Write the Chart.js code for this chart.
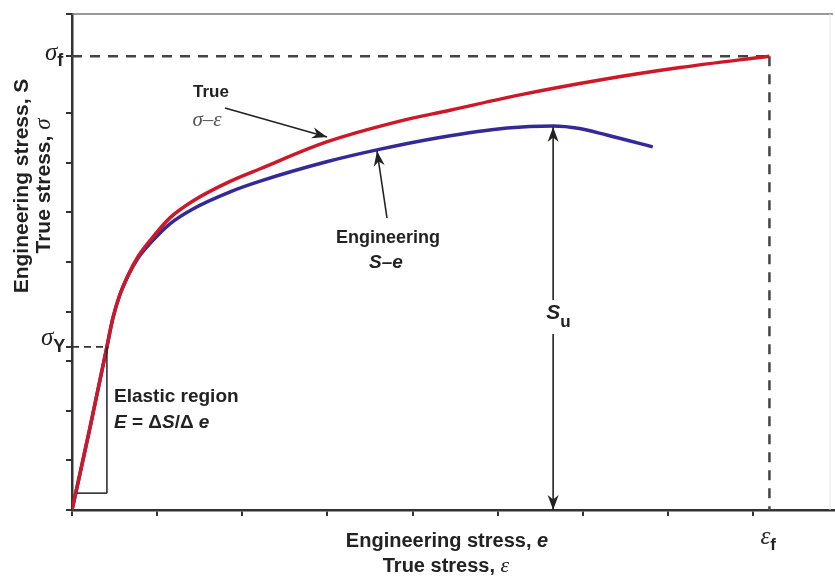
<!DOCTYPE html>
<html>
<head>
<meta charset="utf-8">
<script src="https://cdn.jsdelivr.net/npm/chart.js@4.4.0/dist/chart.umd.min.js"></script>
<style>
  html, body { margin: 0; padding: 0; background: #fff; }
</style>
</head>
<body>
<canvas id="stressChart" width="835" height="577"></canvas>
<script>
// true stress-strain curve (sigma - epsilon)
const trueStrain = [0, 0.21, 0.41, 0.48, 0.56, 0.66, 0.78, 0.92, 1.15, 1.42, 1.85, 2.21, 2.99, 3.85, 4.44, 5.26, 6.20, 7.14, 8.19];
const trueStress = [0, 1.65, 3.29, 3.87, 4.33, 4.74, 5.12, 5.44, 5.89, 6.23, 6.62, 6.88, 7.42, 7.84, 8.06, 8.37, 8.67, 8.92, 9.15];

// engineering stress-strain curve (S - e)
const engStrain = [0, 0.21, 0.41, 0.48, 0.56, 0.66, 0.78, 0.92, 1.15, 1.42, 1.85, 2.21, 2.99, 3.58, 4.32, 5.11, 5.65, 5.96, 6.28, 6.82];
const engStress = [0, 1.65, 3.29, 3.87, 4.33, 4.73, 5.09, 5.38, 5.77, 6.07, 6.41, 6.63, 7.02, 7.26, 7.51, 7.70, 7.74, 7.69, 7.56, 7.32];

// axis ticks (no numbers are printed on this chart)
const strainTicks = [0, 1, 2, 3, 4, 5, 6, 7, 8];
const stressTicks = [0, 1, 2, 3, 4, 5, 6, 7, 8, 10];

// marked values
const yieldStress = 3.29;
const yieldStrain = 0.41;
const fractureStress = 9.15;
const fractureStrain = 8.19;
const ultimateStrain = 5.65;
const ultimateStress = 7.74;

const SANS = '"Liberation Sans", Arial, sans-serif';
const SERIF = '"Liberation Serif", "Times New Roman", serif';
const INK = '#222';

const toPoints = (xs, ys) => xs.map((x, i) => ({ x: x, y: ys[i] }));

const line = (ctx, x1, y1, x2, y2, color, width) => {
  ctx.strokeStyle = color;
  ctx.lineWidth = width;
  ctx.beginPath();
  ctx.moveTo(x1, y1);
  ctx.lineTo(x2, y2);
  ctx.stroke();
};

// arrow head at (x2, y2)
const arrow = (ctx, x1, y1, x2, y2, both) => {
  line(ctx, x1, y1, x2, y2, INK, 1.6);
  const head = (tx, ty, fx, fy) => {
    const a = Math.atan2(ty - fy, tx - fx);
    const len = 15, half = 5.5;
    ctx.fillStyle = INK;
    ctx.beginPath();
    ctx.moveTo(tx, ty);
    ctx.lineTo(tx - len * Math.cos(a) + half * Math.sin(a), ty - len * Math.sin(a) - half * Math.cos(a));
    ctx.lineTo(tx - len * 0.7 * Math.cos(a), ty - len * 0.7 * Math.sin(a));
    ctx.lineTo(tx - len * Math.cos(a) - half * Math.sin(a), ty - len * Math.sin(a) + half * Math.cos(a));
    ctx.closePath();
    ctx.fill();
  };
  head(x2, y2, x1, y1);
  if (both) head(x1, y1, x2, y2);
};

// text made of runs with different fonts
const runs = (ctx, parts, x, y, align) => {
  let total = 0;
  parts.forEach(p => { ctx.font = p.font; p.w = ctx.measureText(p.text).width; total += p.w; });
  let cx = align === 'center' ? x - total / 2 : x;
  ctx.textAlign = 'left';
  ctx.textBaseline = 'middle';
  parts.forEach(p => {
    ctx.font = p.font;
    ctx.fillStyle = p.color || INK;
    ctx.fillText(p.text, cx, y + (p.dy || 0));
    cx += p.w;
  });
};

const guides = {
  id: 'guides',
  beforeDatasetsDraw(chart) {
    const { ctx, chartArea: a, scales: { x, y } } = chart;
    ctx.save();
    // frame: top line and faint right edge
    line(ctx, a.left, a.top, a.right - 2, a.top, '#777', 1.5);
    line(ctx, 830, a.top, 830, a.bottom, '#e4e4e4', 1);
    // fracture stress and strain
    ctx.setLineDash([10, 8]);
    line(ctx, a.left, y.getPixelForValue(fractureStress), x.getPixelForValue(fractureStrain), y.getPixelForValue(fractureStress), '#444', 2.5);
    line(ctx, x.getPixelForValue(fractureStrain), y.getPixelForValue(fractureStress), x.getPixelForValue(fractureStrain), a.bottom, '#444', 2.5);
    // yield stress
    ctx.setLineDash([7, 5]);
    line(ctx, a.left, y.getPixelForValue(yieldStress), x.getPixelForValue(yieldStrain), y.getPixelForValue(yieldStress), '#333', 1.8);
    ctx.setLineDash([]);
    ctx.restore();
  },
  afterDatasetsDraw(chart) {
    const { ctx, chartArea: a, scales: { x, y } } = chart;
    ctx.save();

    // elastic region triangle
    const ex = x.getPixelForValue(yieldStrain);
    const ey = y.getPixelForValue(0.34);
    line(ctx, ex, y.getPixelForValue(yieldStress), ex, ey, INK, 1.5);
    line(ctx, x.getPixelForValue(0.06), ey, ex, ey, INK, 1.5);

    // annotation arrows
    arrow(ctx, 225, 108, 327, 137);
    arrow(ctx, 387, 218, 377, 151);
    const ux = x.getPixelForValue(ultimateStrain);
    arrow(ctx, ux, a.bottom, ux, y.getPixelForValue(ultimateStress) + 1, true);

    // S_u label on white
    ctx.fillStyle = '#fff';
    ctx.fillRect(ux - 10, 300, 30, 34);
    runs(ctx, [
      { text: 'S', font: `italic bold 21px ${SANS}` },
      { text: 'u', font: `bold 17px ${SANS}`, dy: 9 }
    ], ux - 7, 313, 'left');

    // curve labels
    runs(ctx, [{ text: 'True', font: `bold 17px ${SANS}` }], 211, 92, 'center');
    runs(ctx, [{ text: 'σ–ε', font: `italic 21px ${SERIF}`, color: '#555' }], 207, 120, 'center');
    runs(ctx, [{ text: 'Engineering', font: `bold 18px ${SANS}` }], 388, 238, 'center');
    runs(ctx, [{ text: 'S–e', font: `italic bold 19px ${SANS}` }], 386, 263, 'center');

    // elastic region text
    runs(ctx, [{ text: 'Elastic region', font: `bold 19px ${SANS}` }], 114, 397, 'left');
    runs(ctx, [
      { text: 'E', font: `italic bold 19px ${SANS}` },
      { text: ' = Δ', font: `bold 19px ${SANS}` },
      { text: 'S', font: `italic bold 19px ${SANS}` },
      { text: '/Δ', font: `bold 19px ${SANS}` },
      { text: ' e', font: `italic bold 19px ${SANS}` }
    ], 114, 423, 'left');

    // marked axis values
    runs(ctx, [
      { text: 'σ', font: `italic 25px ${SERIF}` },
      { text: 'f', font: `bold 18px ${SANS}`, dy: 8 }
    ], 45, y.getPixelForValue(fractureStress) - 3, 'left');
    runs(ctx, [
      { text: 'σ', font: `italic 25px ${SERIF}` },
      { text: 'Y', font: `bold 18px ${SANS}`, dy: 8 }
    ], 41, y.getPixelForValue(yieldStress) - 8, 'left');
    runs(ctx, [
      { text: 'ε', font: `italic 25px ${SERIF}` },
      { text: 'f', font: `bold 17px ${SANS}`, dy: 8 }
    ], x.getPixelForValue(fractureStrain) - 9, 537, 'left');

    // axis titles
    runs(ctx, [
      { text: 'Engineering stress, ', font: `bold 20px ${SANS}` },
      { text: 'e', font: `italic bold 20px ${SANS}` }
    ], 447, 541, 'center');
    runs(ctx, [
      { text: 'True stress, ', font: `bold 20px ${SANS}` },
      { text: 'ε', font: `italic 22px ${SERIF}` }
    ], 446, 566, 'center');

    ctx.translate(22, 186);
    ctx.rotate(-Math.PI / 2);
    runs(ctx, [{ text: 'Engineering stress, S', font: `bold 21px ${SANS}` }], 0, 0, 'center');
    runs(ctx, [
      { text: 'True stress, ', font: `bold 21px ${SANS}` },
      { text: 'σ', font: `italic 23px ${SERIF}` }
    ], 0, 22, 'center');

    ctx.restore();
  }
};

new Chart('stressChart', {
  type: 'scatter',
  data: {
    datasets: [
      {
        label: 'True σ–ε',
        data: toPoints(trueStrain, trueStress),
        showLine: true,
        borderColor: 'rgb(204, 24, 40)',
        borderWidth: 3.5,
        pointRadius: 0,
        cubicInterpolationMode: 'monotone',
        order: 0,
      },
      {
        label: 'Engineering S–e',
        data: toPoints(engStrain, engStress),
        showLine: true,
        borderColor: 'rgb(52, 42, 150)',
        borderWidth: 3.5,
        pointRadius: 0,
        cubicInterpolationMode: 'monotone',
        order: 1,
      },
    ],
  },
  options: {
    responsive: false,
    animation: false,
    layout: { padding: { left: 66, right: 0, top: 14, bottom: 61 } },
    plugins: {
      legend: { display: false },
      tooltip: { enabled: false },
    },
    scales: {
      x: {
        type: 'linear',
        min: 0,
        max: 8.96,
        afterBuildTicks: (scale) => { scale.ticks = strainTicks.map(v => ({ value: v })); },
        ticks: { display: false },
        grid: { drawOnChartArea: false, drawTicks: true, tickLength: 6, color: '#333', lineWidth: 2 },
        border: { display: true, color: '#333', width: 2.5 },
      },
      y: {
        type: 'linear',
        min: 0,
        max: 10,
        afterBuildTicks: (scale) => {
          scale.ticks = stressTicks.concat([yieldStress, fractureStress]).map(v => ({ value: v }));
        },
        ticks: { display: false },
        grid: { drawOnChartArea: false, drawTicks: true, tickLength: 6, color: '#333', lineWidth: 2 },
        border: { display: true, color: '#333', width: 2.5 },
      },
    },
  },
  plugins: [guides],
});
</script>
</body>
</html>
